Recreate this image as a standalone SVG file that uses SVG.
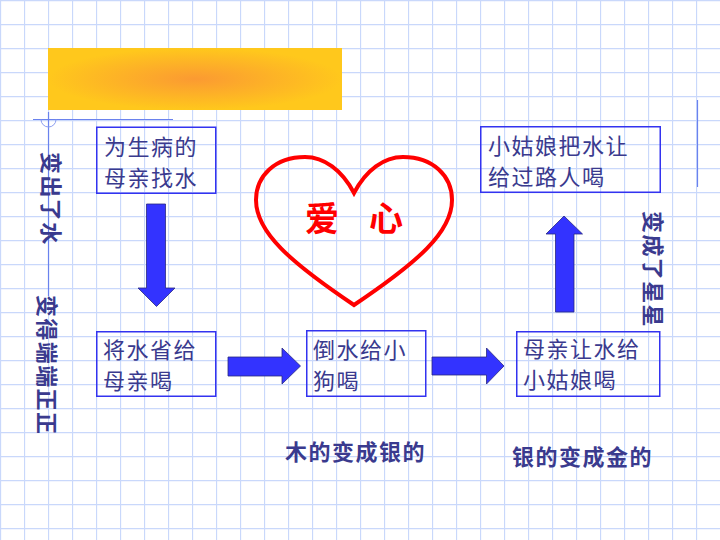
<svg xmlns="http://www.w3.org/2000/svg" width="720" height="540" viewBox="0 0 720 540">
  <defs>
    <pattern id="grid" width="24" height="24" patternUnits="userSpaceOnUse">
      <path d="M0.5 0 V24 M0 0.5 H24" stroke="#c9d8fb" stroke-width="1.3" fill="none"/>
    </pattern>
    <radialGradient id="banner" cx="0.5" cy="0.5" r="0.5">
      <stop offset="0" stop-color="#fb9a32"/>
      <stop offset="1" stop-color="#ffc81c"/>
    </radialGradient>
    <style>
      .box { fill: none; stroke: #3333f0; stroke-width: 1.5; }
      .txt { font-family: "Noto Sans CJK SC", sans-serif; font-size: 22px; fill: #3a3a8e; letter-spacing: 1.5px; }
      .vt { font-family: "Noto Sans CJK SC", sans-serif; font-size: 22px; font-weight: bold; fill: #3a3a8e; letter-spacing: 1.4px; dominant-baseline: central; }
      .lbl { font-family: "Noto Sans CJK SC", sans-serif; font-size: 22px; font-weight: bold; fill: #3a3a8e; letter-spacing: 1.5px; }
      .arrow { fill: #3333ff; stroke: #2a2a80; stroke-width: 0.8; }
      .guide { stroke: #6a82ee; stroke-width: 1.2; fill: none; }
    </style>
  </defs>

  <!-- background grid -->
  <rect width="720" height="540" fill="#ffffff"/>
  <rect width="720" height="540" fill="url(#grid)"/>

  <!-- title banner -->
  <rect x="48" y="48" width="294" height="62" fill="url(#banner)"/>

  <!-- guide lines -->
  <g id="guides">
    <line class="guide" x1="33" y1="119.5" x2="173" y2="119.5"/>
    <line class="guide" x1="48.5" y1="112" x2="48.5" y2="296"/>
    <path d="M41 119.5 A7.5 7.5 0 0 0 56 119.5" stroke="#8c9ef0" stroke-width="1" fill="none"/>
    <line class="guide" x1="697.5" y1="100" x2="697.5" y2="187"/>
  </g>

  <!-- heart -->
  <g id="heart">
    <path d="M354 193 C342 170 324 157 305 157 C275 157 256 176 256 200 C256 232 290 262 354 305 C418 262 452 232 452 200 C452 176 433 157 403 157 C384 157 366 170 354 193 Z" fill="none" stroke="#ff0000" stroke-width="4" stroke-linejoin="miter"/>
    <text font-family="'Noto Sans CJK SC', sans-serif" font-size="34" font-weight="bold" fill="#ff0000" text-anchor="middle"><tspan x="322" y="231">爱</tspan><tspan x="386" y="231">心</tspan></text>
  </g>

  <!-- nodes -->
  <g id="n1">
    <rect class="box" x="96.75" y="127.25" width="119" height="66"/>
    <text class="txt" x="104" y="155">为生病的</text>
    <text class="txt" x="104" y="186">母亲找水</text>
  </g>
  <g id="n2">
    <rect class="box" x="96.75" y="331.75" width="119" height="64.5"/>
    <text class="txt" x="103" y="358">将水省给</text>
    <text class="txt" x="103" y="389">母亲喝</text>
  </g>
  <g id="n3">
    <rect class="box" x="306.75" y="330.75" width="119" height="65.5"/>
    <text class="txt" x="313" y="358">倒水给小</text>
    <text class="txt" x="313" y="389">狗喝</text>
  </g>
  <g id="n4">
    <rect class="box" x="516.75" y="331.75" width="143" height="64.5"/>
    <text class="txt" x="523" y="357">母亲让水给</text>
    <text class="txt" x="523" y="388">小姑娘喝</text>
  </g>
  <g id="n5">
    <rect class="box" x="480.75" y="126.75" width="179.5" height="65.5"/>
    <text class="txt" x="488" y="154">小姑娘把水让</text>
    <text class="txt" x="488" y="185">给过路人喝</text>
  </g>

  <!-- connectors -->
  <g id="connectors">
    <polygon class="arrow" points="146.5,204 165.5,204 165.5,288 175,288 156.5,306.5 138,288 146.5,288"/>
    <polygon class="arrow" points="228,357 282,357 282,348 300.5,366 282,384 282,376 228,376"/>
    <polygon class="arrow" points="432,357 486.5,357 486.5,348 504,366 486.5,384 486.5,375 432,375"/>
    <polygon class="arrow" points="555.5,312 574,312 574,234 582.5,234 564,216 546,234 555.5,234"/>
  </g>

  <!-- side and bottom labels -->
  <g id="labels">
    <text class="vt" transform="translate(53 152) rotate(90)">变出了水</text>
    <text class="vt" transform="translate(48.5 295) rotate(90)">变得端端正正</text>
    <text class="vt" transform="translate(654.5 211) rotate(90)">变成了星星</text>
    <text class="lbl" x="285" y="460">木的变成银的</text>
    <text class="lbl" x="512" y="465">银的变成金的</text>
  </g>
</svg>
